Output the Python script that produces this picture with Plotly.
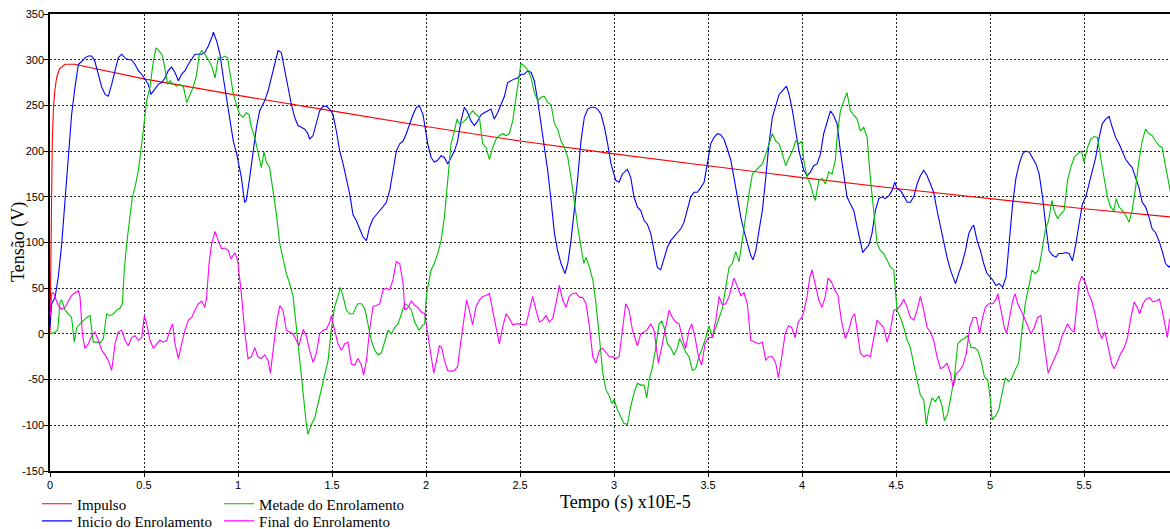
import plotly.graph_objects as go

# ---------------- data (time in x10E-5 s, voltage in V) ----------------
impulso_t = [0.0, 0.004, 0.008, 0.012, 0.018, 0.025, 0.035, 0.05, 0.08, 0.13,
             0.5, 1.0, 1.5, 2.0, 2.5, 3.0, 3.5, 4.0, 4.5, 5.0, 5.5, 5.96]
impulso_v = [0, 85, 150, 210, 245, 265, 280, 290, 295, 295,
             279, 261, 244, 227, 211, 197, 184, 171, 159, 148, 137, 128]

inicio_t = [0.0, 0.009, 0.027, 0.044, 0.062, 0.080, 0.098, 0.115, 0.133, 0.151, 0.168, 0.186, 0.204, 0.222, 0.239,
            0.257, 0.275, 0.293, 0.310, 0.328, 0.346, 0.363, 0.381, 0.399, 0.417, 0.434, 0.452, 0.470, 0.488,
            0.505, 0.523, 0.537, 0.559, 0.576, 0.594, 0.612, 0.629, 0.647, 0.665, 0.683, 0.700, 0.718, 0.736,
            0.754, 0.771, 0.789, 0.807, 0.824, 0.842, 0.860, 0.869, 0.887, 0.904, 0.922, 0.940, 0.957, 0.975,
            0.993, 1.018, 1.035, 1.044, 1.062, 1.080, 1.098, 1.115, 1.142, 1.160, 1.177, 1.195, 1.213, 1.230,
            1.248, 1.266, 1.284, 1.301, 1.319, 1.337, 1.355, 1.372, 1.381, 1.399, 1.417, 1.434, 1.452, 1.470,
            1.488, 1.505, 1.523, 1.541, 1.559, 1.576, 1.594, 1.612, 1.629, 1.647, 1.665, 1.683, 1.700, 1.718,
            1.736, 1.754, 1.771, 1.789, 1.807, 1.824, 1.842, 1.860, 1.878, 1.895, 1.913, 1.931, 1.949, 1.966,
            1.984, 2.009, 2.027, 2.044, 2.062, 2.080, 2.098, 2.115, 2.133, 2.151, 2.168, 2.186, 2.204, 2.222,
            2.239, 2.257, 2.275, 2.293, 2.310, 2.328, 2.346, 2.363, 2.381, 2.399, 2.417, 2.434, 2.452, 2.470,
            2.488, 2.505, 2.523, 2.541, 2.559, 2.576, 2.594, 2.612, 2.629, 2.647, 2.665, 2.683, 2.700, 2.718,
            2.739, 2.754, 2.771, 2.789, 2.807, 2.824, 2.842, 2.860, 2.878, 2.895, 2.913, 2.931, 2.949, 2.966,
            2.984, 3.009, 3.027, 3.044, 3.071, 3.089, 3.106, 3.124, 3.142, 3.160, 3.177, 3.195, 3.213, 3.230,
            3.248, 3.266, 3.284, 3.301, 3.319, 3.337, 3.355, 3.372, 3.390, 3.408, 3.426, 3.443, 3.461, 3.479,
            3.496, 3.514, 3.532, 3.550, 3.567, 3.585, 3.603, 3.621, 3.638, 3.656, 3.674, 3.691, 3.709, 3.727,
            3.739, 3.754, 3.771, 3.789, 3.807, 3.824, 3.842, 3.860, 3.878, 3.895, 3.917, 3.931, 3.949, 3.966,
            3.984, 4.009, 4.027, 4.044, 4.062, 4.080, 4.098, 4.115, 4.133, 4.151, 4.168, 4.186, 4.204, 4.222,
            4.239, 4.257, 4.275, 4.293, 4.310, 4.323, 4.337, 4.355, 4.372, 4.390, 4.408, 4.426, 4.443, 4.461,
            4.479, 4.493, 4.505, 4.523, 4.541, 4.559, 4.576, 4.594, 4.612, 4.629, 4.647, 4.665, 4.683, 4.700,
            4.718, 4.736, 4.754, 4.771, 4.789, 4.816, 4.833, 4.851, 4.869, 4.887, 4.904, 4.913, 4.931, 4.949,
            4.966, 4.984, 5.014, 5.032, 5.049, 5.067, 5.085, 5.102, 5.120, 5.138, 5.155, 5.173, 5.187, 5.208,
            5.226, 5.244, 5.261, 5.279, 5.297, 5.314, 5.332, 5.350, 5.367, 5.385, 5.403, 5.420, 5.438, 5.456,
            5.473, 5.491, 5.509, 5.527, 5.544, 5.562, 5.580, 5.597, 5.615, 5.633, 5.650, 5.668, 5.686, 5.703,
            5.721, 5.739, 5.756, 5.774, 5.792, 5.809, 5.827, 5.845, 5.862, 5.880, 5.898, 5.915, 5.933, 5.951,
            5.959]
inicio_v = [8, 33, 40, 62, 98, 150, 200, 240, 270, 295, 298, 302, 304, 304, 298,
            284, 270, 262, 260, 273, 288, 302, 306, 302, 300, 300, 295, 288, 284,
            278, 273, 262, 268, 273, 275, 280, 288, 292, 286, 277, 284, 288, 295,
            300, 306, 306, 306, 308, 315, 324, 330, 320, 306, 280, 255, 233, 211,
            197, 171, 144, 146, 171, 200, 226, 244, 255, 266, 280, 295, 310, 308,
            288, 270, 251, 237, 228, 226, 224, 219, 213, 217, 230, 244, 249, 249,
            246, 240, 222, 200, 186, 171, 153, 130, 124, 115, 106, 102, 117, 126,
            131, 135, 139, 144, 157, 179, 200, 208, 211, 219, 230, 240, 248, 249,
            240, 208, 193, 188, 190, 195, 193, 186, 193, 200, 211, 233, 248, 242,
            233, 228, 233, 240, 242, 244, 246, 235, 242, 251, 260, 275, 277, 279,
            280, 284, 284, 288, 286, 277, 255, 230, 208, 179, 146, 110, 91, 77,
            66, 77, 102, 135, 171, 211, 237, 246, 248, 248, 246, 240, 226, 208,
            186, 168, 166, 175, 180, 171, 150, 139, 135, 124, 120, 110, 91, 73,
            70, 84, 95, 102, 106, 111, 115, 122, 135, 150, 155, 155, 160, 166,
            186, 208, 215, 219, 218, 213, 202, 190, 171, 150, 128, 113, 99, 86,
            81, 91, 113, 135, 171, 208, 237, 251, 262, 266, 271, 262, 244, 222,
            200, 179, 173, 177, 184, 186, 197, 219, 233, 244, 239, 230, 200, 171,
            150, 142, 135, 117, 102, 89, 93, 97, 110, 135, 148, 150, 148, 151,
            157, 166, 159, 157, 151, 144, 144, 150, 164, 173, 179, 173, 164, 155,
            135, 117, 99, 84, 70, 55, 66, 77, 91, 110, 117, 119, 102, 91,
            77, 66, 59, 53, 55, 51, 62, 98, 142, 171, 186, 197, 200, 199,
            193, 186, 175, 150, 117, 91, 86, 84, 88, 88, 89, 88, 80, 98,
            120, 142, 150, 164, 179, 193, 215, 230, 235, 238, 226, 215, 208, 200,
            191, 186, 182, 171, 160, 144, 139, 128, 115, 111, 102, 91, 77, 73,
            75]

metade_t = [0.0, 0.027, 0.041, 0.053, 0.062, 0.080, 0.098, 0.115, 0.129, 0.142, 0.160, 0.177, 0.195, 0.213,
            0.230, 0.248, 0.266, 0.284, 0.301, 0.319, 0.337, 0.355, 0.372, 0.385, 0.395, 0.408, 0.426, 0.438,
            0.452, 0.470, 0.488, 0.502, 0.514, 0.532, 0.550, 0.564, 0.582, 0.599, 0.612, 0.626, 0.638, 0.656,
            0.674, 0.691, 0.710, 0.727, 0.745, 0.762, 0.780, 0.794, 0.807, 0.824, 0.842, 0.860, 0.878, 0.895,
            0.913, 0.931, 0.945, 0.957, 0.975, 0.993, 1.009, 1.027, 1.044, 1.059, 1.071, 1.089, 1.106, 1.124,
            1.138, 1.151, 1.168, 1.186, 1.204, 1.222, 1.239, 1.257, 1.275, 1.293, 1.310, 1.328, 1.346, 1.363,
            1.372, 1.390, 1.408, 1.426, 1.443, 1.461, 1.479, 1.496, 1.514, 1.532, 1.544, 1.559, 1.576, 1.594,
            1.612, 1.629, 1.638, 1.656, 1.674, 1.691, 1.709, 1.727, 1.745, 1.762, 1.780, 1.798, 1.816, 1.833,
            1.851, 1.869, 1.887, 1.904, 1.922, 1.940, 1.963, 1.980, 1.993, 2.0, 2.009, 2.027, 2.044, 2.062,
            2.080, 2.098, 2.115, 2.133, 2.151, 2.165, 2.177, 2.195, 2.213, 2.230, 2.248, 2.266, 2.284, 2.301,
            2.319, 2.337, 2.355, 2.372, 2.390, 2.408, 2.426, 2.443, 2.461, 2.479, 2.491, 2.505, 2.523, 2.541,
            2.559, 2.576, 2.594, 2.612, 2.629, 2.647, 2.665, 2.683, 2.700, 2.718, 2.736, 2.754, 2.771, 2.789,
            2.807, 2.824, 2.839, 2.851, 2.869, 2.887, 2.904, 2.922, 2.940, 2.957, 2.975, 2.988, 3.0, 3.018,
            3.035, 3.053, 3.071, 3.089, 3.106, 3.124, 3.142, 3.160, 3.174, 3.186, 3.204, 3.222, 3.239, 3.254,
            3.266, 3.284, 3.301, 3.319, 3.337, 3.349, 3.363, 3.381, 3.399, 3.417, 3.434, 3.452, 3.470, 3.488,
            3.505, 3.523, 3.541, 3.559, 3.576, 3.594, 3.612, 3.629, 3.647, 3.665, 3.683, 3.700, 3.718, 3.736,
            3.754, 3.771, 3.789, 3.807, 3.824, 3.842, 3.860, 3.878, 3.895, 3.913, 3.931, 3.949, 3.966, 3.984,
            3.998, 4.009, 4.027, 4.044, 4.062, 4.071, 4.089, 4.106, 4.124, 4.142, 4.160, 4.177, 4.186, 4.204,
            4.222, 4.239, 4.257, 4.275, 4.293, 4.310, 4.328, 4.346, 4.363, 4.381, 4.399, 4.417, 4.434, 4.452,
            4.470, 4.488, 4.505, 4.523, 4.541, 4.559, 4.576, 4.594, 4.612, 4.629, 4.647, 4.661, 4.674, 4.691,
            4.709, 4.727, 4.745, 4.757, 4.775, 4.793, 4.810, 4.828, 4.846, 4.863, 4.881, 4.899, 4.917, 4.934,
            4.952, 4.970, 4.988, 5.002, 5.011, 5.028, 5.046, 5.064, 5.081, 5.099, 5.117, 5.134, 5.152, 5.170,
            5.187, 5.205, 5.223, 5.240, 5.258, 5.276, 5.293, 5.311, 5.329, 5.341, 5.359, 5.376, 5.394, 5.412,
            5.429, 5.447, 5.465, 5.486, 5.500, 5.518, 5.535, 5.553, 5.571, 5.588, 5.606, 5.624, 5.641, 5.659,
            5.671, 5.686, 5.703, 5.721, 5.739, 5.756, 5.774, 5.792, 5.809, 5.827, 5.845, 5.862, 5.880, 5.898,
            5.915, 5.933, 5.951, 5.959]
metade_v = [0, 2, 4, 35, 37, 26, 22, 18, -9, 7, 11, 15, 18, 20,
            -9, -9, -10, -5, 22, 20, 22, 26, 28, 33, 70, 99, 128, 150,
            160, 179, 208, 237, 255, 270, 299, 313, 309, 304, 291, 273, 277, 273,
            271, 273, 270, 253, 262, 270, 284, 306, 310, 306, 300, 293, 280, 302,
            302, 304, 302, 284, 262, 250, 240, 237, 242, 240, 226, 215, 197, 182,
            199, 188, 182, 157, 131, 99, 81, 66, 55, 41, 8, -29, -65, -98,
            -110, -99, -92, -76, -61, -48, -29, 4, 30, 41, 51, 41, 26, 22,
            22, 30, 33, 33, 28, 11, -7, -18, -23, -21, -7, 4, 0, 7,
            11, 22, 33, 31, 26, 13, 4, 9, 11, 37, 51, 70, 77, 88,
            102, 128, 164, 208, 222, 235, 230, 231, 235, 240, 244, 240, 237, 208,
            204, 191, 204, 213, 217, 219, 217, 219, 233, 259, 277, 296, 293, 289,
            280, 264, 255, 259, 260, 253, 251, 230, 224, 211, 204, 193, 171, 142,
            117, 95, 77, 84, 73, 59, 33, -4, -43, -61, -68, -76, -72, -83,
            -90, -98, -99, -79, -65, -54, -56, -56, -70, -51, -36, -15, 11, 14,
            7, -11, -15, -23, -15, -5, -11, -20, -25, -40, -38, -25, -15, -4,
            9, -4, 7, 18, 28, 51, 73, 77, 90, 79, 102, 128, 153, 175,
            179, 182, 186, 197, 208, 219, 211, 208, 197, 184, 193, 200, 211, 208,
            211, 190, 171, 164, 150, 146, 168, 170, 164, 177, 175, 190, 215, 244,
            255, 264, 244, 240, 235, 222, 226, 215, 171, 135, 99, 91, 88, 81,
            73, 70, 26, 18, 7, -7, -15, -33, -51, -67, -72, -99, -83, -70,
            -74, -68, -79, -95, -87, -65, -48, -11, -7, -5, -2, -15, -15, -18,
            -29, -47, -51, -72, -94, -90, -83, -65, -48, -52, -48, -39, -32, 4,
            33, 51, 70, 66, 70, 91, 113, 124, 146, 135, 126, 131, 135, 168,
            182, 193, 197, 200, 188, 204, 213, 216, 215, 193, 171, 150, 139, 135,
            148, 139, 135, 130, 122, 135, 160, 190, 211, 224, 219, 217, 211, 206,
            204, 186, 164, 155]

final_t = [0.0, 0.009, 0.018, 0.027, 0.044, 0.062, 0.080, 0.098, 0.115, 0.133, 0.151, 0.160, 0.172, 0.186,
           0.204, 0.222, 0.239, 0.257, 0.275, 0.293, 0.310, 0.328, 0.346, 0.363, 0.381, 0.399, 0.417, 0.434,
           0.452, 0.470, 0.488, 0.502, 0.514, 0.532, 0.550, 0.567, 0.585, 0.603, 0.621, 0.638, 0.652, 0.665,
           0.683, 0.700, 0.718, 0.736, 0.754, 0.771, 0.789, 0.807, 0.824, 0.833, 0.846, 0.860, 0.878, 0.895,
           0.913, 0.931, 0.949, 0.963, 0.984, 0.998, 1.018, 1.035, 1.053, 1.071, 1.089, 1.106, 1.124, 1.142,
           1.160, 1.172, 1.186, 1.204, 1.222, 1.239, 1.257, 1.275, 1.293, 1.310, 1.324, 1.346, 1.363, 1.381,
           1.399, 1.417, 1.434, 1.452, 1.470, 1.488, 1.496, 1.514, 1.532, 1.550, 1.567, 1.585, 1.603, 1.621,
           1.638, 1.656, 1.668, 1.683, 1.700, 1.718, 1.736, 1.754, 1.771, 1.789, 1.807, 1.824, 1.842, 1.860,
           1.878, 1.887, 1.904, 1.922, 1.940, 1.957, 1.975, 1.993, 2.009, 2.027, 2.041, 2.053, 2.071, 2.083,
           2.098, 2.115, 2.133, 2.151, 2.168, 2.186, 2.204, 2.216, 2.230, 2.248, 2.266, 2.284, 2.301, 2.319,
           2.337, 2.355, 2.372, 2.390, 2.408, 2.426, 2.443, 2.461, 2.479, 2.496, 2.514, 2.532, 2.550, 2.567,
           2.585, 2.603, 2.621, 2.638, 2.656, 2.674, 2.691, 2.709, 2.727, 2.745, 2.762, 2.780, 2.798, 2.816,
           2.833, 2.851, 2.869, 2.887, 2.904, 2.922, 2.940, 2.957, 2.975, 2.993, 3.009, 3.027, 3.044, 3.062,
           3.080, 3.098, 3.124, 3.142, 3.160, 3.177, 3.195, 3.213, 3.236, 3.257, 3.275, 3.293, 3.310, 3.328,
           3.346, 3.363, 3.381, 3.399, 3.413, 3.431, 3.449, 3.466, 3.484, 3.502, 3.523, 3.541, 3.559, 3.576,
           3.594, 3.612, 3.626, 3.638, 3.656, 3.674, 3.691, 3.709, 3.727, 3.745, 3.771, 3.789, 3.807, 3.824,
           3.842, 3.860, 3.874, 3.892, 3.910, 3.927, 3.945, 3.963, 3.980, 3.998, 4.009, 4.027, 4.041, 4.053,
           4.071, 4.089, 4.106, 4.124, 4.138, 4.156, 4.174, 4.191, 4.209, 4.230, 4.248, 4.266, 4.280, 4.293,
           4.310, 4.328, 4.346, 4.363, 4.381, 4.399, 4.417, 4.434, 4.452, 4.470, 4.488, 4.505, 4.523, 4.541,
           4.559, 4.576, 4.594, 4.612, 4.629, 4.647, 4.665, 4.683, 4.700, 4.718, 4.736, 4.754, 4.771, 4.789,
           4.803, 4.821, 4.839, 4.856, 4.874, 4.892, 4.910, 4.927, 4.945, 4.957, 4.975, 4.993, 5.014, 5.032,
           5.041, 5.058, 5.076, 5.088, 5.106, 5.120, 5.133, 5.147, 5.164, 5.182, 5.200, 5.217, 5.235, 5.253,
           5.270, 5.288, 5.309, 5.327, 5.345, 5.362, 5.380, 5.398, 5.412, 5.429, 5.447, 5.459, 5.473, 5.488,
           5.505, 5.523, 5.541, 5.558, 5.576, 5.594, 5.611, 5.629, 5.647, 5.661, 5.678, 5.696, 5.714, 5.731,
           5.749, 5.767, 5.783, 5.795, 5.813, 5.830, 5.848, 5.866, 5.883, 5.901, 5.915, 5.933, 5.943, 5.954,
           5.959]
final_v = [18, 44, 45, 40, 31, 27, 29, 36, 42, 45, 47, 40, 0, -16,
           -11, -2, 2, -7, -18, -23, -29, -40, -11, 2, 4, -7, -13, -4,
           -2, -7, -4, 20, 11, -7, -16, -11, -7, -9, -7, 4, 11, -11,
           -27, -11, 4, 15, 18, 26, 33, 36, 29, 40, 77, 99, 112, 102,
           93, 94, 91, 82, 89, 80, 44, 4, -27, -25, -15, -25, -27, -23,
           -29, -43, -21, 11, 31, 26, 4, 2, 0, -7, -13, 5, -2, -18,
           -31, -21, 0, 4, 5, 13, 20, 4, -11, -18, -11, -9, -33, -34,
           -27, -34, -45, -29, 4, 30, 31, 33, 48, 50, 48, 59, 79, 77,
           55, 26, 29, 36, 31, 29, 24, 22, 0, -25, -43, -32, -13, -15,
           -29, -40, -41, -40, -36, -7, 22, 37, 26, 10, 30, 37, 41, 42,
           44, 26, 8, -11, 8, 22, 17, 10, 11, 11, 10, 10, 26, 41,
           26, 13, 15, 20, 13, 17, 33, 53, 37, 29, 41, 44, 45, 40,
           40, 33, 8, -25, -32, -18, -16, -20, -25, -25, -27, -25, 4, 33,
           26, 4, -13, 0, 2, 5, 11, 4, -32, -11, 11, 26, 18, 13,
           11, -4, -16, 4, 11, -4, -25, -34, -11, -4, -4, 15, 41, 32,
           33, 41, 52, 61, 52, 42, 45, 33, -7, -9, -11, -9, -29, -25,
           -25, -32, -48, -25, 0, 9, 7, -4, 13, 18, 24, 41, 62, 70,
           52, 37, 29, 41, 61, 57, 48, 42, 15, -5, 4, 18, 22, 4,
           -21, -25, -23, -25, -7, 15, 11, 7, -9, 4, 26, 27, 31, 38,
           29, 18, 15, 26, 41, 26, 7, 2, -7, -25, -38, -36, -32, -43,
           -58, -43, -40, -34, -21, 7, 18, 18, 0, 15, 29, 33, 33, 38,
           44, 26, 7, 0, 18, 36, 44, 33, 26, 18, 9, 0, 7, 18,
           20, -11, -43, -34, -25, -18, -4, 5, 11, 5, 2, 26, 55, 63,
           57, 44, 36, 22, 4, -5, 2, -15, -33, -38, -29, -21, -15, -4,
           18, 35, 29, 22, 33, 38, 40, 35, 36, 38, 26, 7, -4, 15,
           17]

x_ticks = [0, 0.5, 1, 1.5, 2, 2.5, 3, 3.5, 4, 4.5, 5, 5.5]
x_tick_labels = ["0", "0.5", "1", "1.5", "2", "2.5", "3", "3.5", "4", "4.5", "5", "5.5"]
y_ticks = [-150, -100, -50, 0, 50, 100, 150, 200, 250, 300, 350]
y_tick_labels = ["-150", "-100", "-50", "0", "50", "100", "150", "200", "250", "300", "350"]

# ---------------- figure ----------------
fig = go.Figure()
fig.add_trace(go.Scatter(x=impulso_t, y=impulso_v, mode="lines", name="Impulso",
                         line=dict(color="#ff0000", width=1.1), legend="legend"))
fig.add_trace(go.Scatter(x=inicio_t, y=inicio_v, mode="lines", name="Inicio do Enrolamento",
                         line=dict(color="#0000ff", width=1.1), legend="legend2"))
fig.add_trace(go.Scatter(x=metade_t, y=metade_v, mode="lines", name="Metade do Enrolamento",
                         line=dict(color="#00c000", width=1.1), legend="legend3"))
fig.add_trace(go.Scatter(x=final_t, y=final_v, mode="lines", name="Final do Enrolamento",
                         line=dict(color="#ff00ff", width=1.1), legend="legend4"))

tick_font = dict(family="Liberation Sans, Arial, sans-serif", size=11, color="black")
serif = "Liberation Serif, Times New Roman, serif"


def leg(x, y):
    return dict(x=x, y=y, xanchor="left", yanchor="top", orientation="v",
                font=dict(family=serif, size=15, color="black"), bgcolor="rgba(0,0,0,0)",
                itemwidth=30)


fig.update_layout(
    width=1170, height=529,
    margin=dict(l=50, r=0, t=14, b=58, autoexpand=False),
    paper_bgcolor="white", plot_bgcolor="white",
    showlegend=True,
    legend=leg(-0.0116, -0.036),
    legend2=leg(-0.0116, -0.0735),
    legend3=leg(0.151, -0.036),
    legend4=leg(0.151, -0.0735),
    xaxis=dict(range=[0, 5.957], tickmode="array", tickvals=x_ticks, ticktext=x_tick_labels,
               showgrid=True, gridcolor="#222222", gridwidth=1, griddash="2px,2px",
               showline=True, linecolor="black", linewidth=1.5, mirror=True,
               ticks="outside", ticklen=4, tickcolor="black", tickfont=tick_font,
               ticklabelstandoff=-1, ticklabeloverflow="allow", automargin=False, zeroline=False),
    yaxis=dict(range=[-150, 350], tickmode="array", tickvals=y_ticks, ticktext=y_tick_labels,
               showgrid=True, gridcolor="#222222", gridwidth=1, griddash="2px,2px",
               showline=True, linecolor="black", linewidth=1.5,
               ticks="outside", ticklen=4, tickcolor="black", tickfont=tick_font,
               ticklabelstandoff=-2, ticklabeloverflow="allow", automargin=False, zeroline=False),
    annotations=[
        dict(text="Tempo (s) x10E-5", xref="paper", yref="paper", x=0.5134, y=-0.068,
             xanchor="center", yanchor="middle", showarrow=False,
             font=dict(family=serif, size=18, color="black")),
        dict(text="Tensão (V)", xref="paper", yref="paper", x=-0.0286, y=0.501,
             xanchor="center", yanchor="middle", showarrow=False, textangle=-90,
             font=dict(family=serif, size=18, color="black")),
    ],
)

# remove the default page margin so the 1170x529 figure fills the window exactly
fig.write_html("out.html",
               config={"displayModeBar": False},
               post_script="document.body.style.margin='0';document.body.style.overflow='hidden';")
